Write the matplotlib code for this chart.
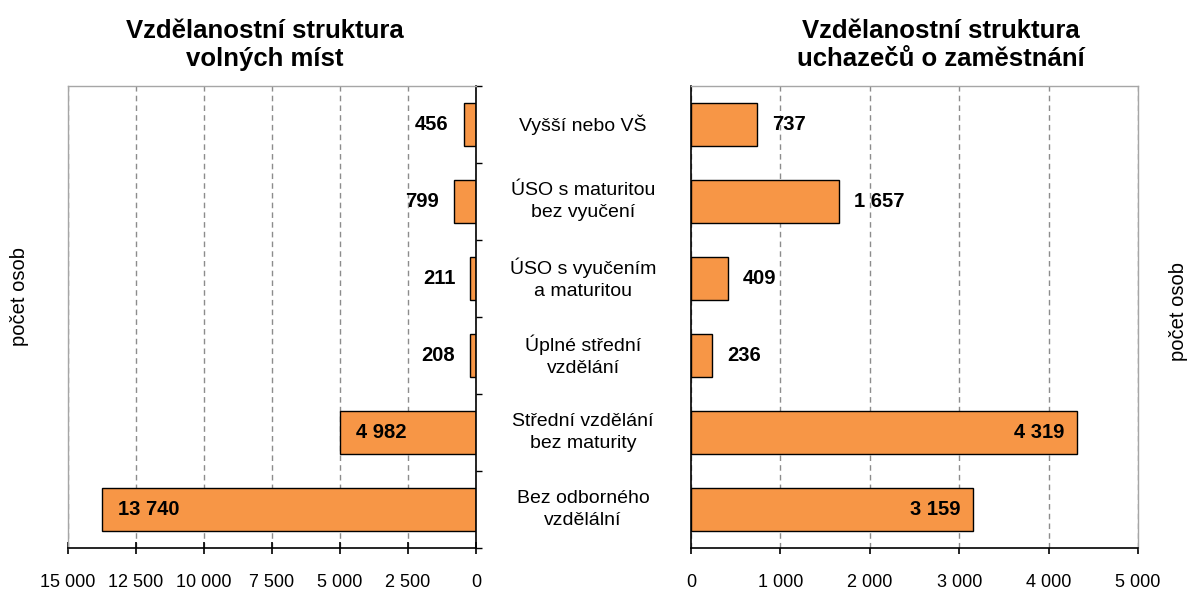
import matplotlib
matplotlib.use("Agg")
import matplotlib.pyplot as plt
import matplotlib.transforms as mtransforms

plt.rcParams["font.family"] = ["Liberation Sans", "DejaVu Sans"]

categories = ["Vyšší nebo VŠ", "ÚSO s maturitou\nbez vyučení", "ÚSO s vyučením\na maturitou",
              "Úplné střední\nvzdělání", "Střední vzdělání\nbez maturity", "Bez odborného\nvzdělální"]
vacancies = [456, 799, 211, 208, 4982, 13740]
applicants = [737, 1657, 409, 236, 4319, 3159]
left_ticks = [15000, 12500, 10000, 7500, 5000, 2500, 0]
right_ticks = [0, 1000, 2000, 3000, 4000, 5000]

BAR, GRID, FRAME = "#f79646", "#8c8c8c", "#a6a6a6"


def fmt(v):
    return f"{v:,}".replace(",", " ")


def style(ax, inner):
    for s in ax.spines.values():
        s.set_color(FRAME)
        s.set_linewidth(1.0)
    ax.spines["bottom"].set_color("black")
    ax.spines[inner].set_color("black")
    ax.spines["bottom"].set_linewidth(1.2)
    ax.spines[inner].set_linewidth(1.2)
    ax.set_ylim(5.5, -0.5)
    ax.grid(axis="x", ls=(0, (4, 3)), color=GRID, lw=1.0)
    ax.set_axisbelow(True)
    ax.tick_params(axis="x", labelsize=13)


fig = plt.figure(figsize=(11.9, 5.96), dpi=100)
ax1 = fig.add_axes([0.0571, 0.0805, 0.3429, 0.7752])
ax2 = fig.add_axes([0.5807, 0.0805, 0.3756, 0.7752])
y = list(range(len(categories)))
LBL = dict(va="center", fontsize=14.5, weight="bold", textcoords="offset pixels")

# left: vacancies (reversed axis)
ax1.barh(y, vacancies, height=0.56, color=BAR, edgecolor="black", lw=1.0)
style(ax1, "right")
ax1.set_xlim(15000, 0)
ax1.set_xticks(left_ticks)
ax1.set_xticklabels([fmt(v) for v in left_ticks])
ax1.tick_params(axis="x", direction="inout", length=9, width=1.2, pad=14)
ax1.yaxis.tick_right()
ax1.set_yticks([i - 0.5 for i in range(len(categories) + 1)])
ax1.set_yticklabels([])
ax1.tick_params(axis="y", direction="out", length=4, width=1.0)
for yi, v in zip(y, vacancies):
    if v > 3000:
        ax1.annotate(fmt(v), (v, yi), xytext=(16, 0), ha="left", **LBL)
    else:
        ax1.annotate(fmt(v), (v, yi), xytext=(-15, 0), ha="right", **LBL)

# right: applicants
ax2.barh(y, applicants, height=0.56, color=BAR, edgecolor="black", lw=1.0)
style(ax2, "left")
ax2.set_xlim(0, 5000)
ax2.set_xticks(right_ticks)
ax2.set_xticklabels([fmt(v) for v in right_ticks])
ax2.tick_params(axis="x", direction="out", length=4, width=1.2, pad=14.5)
ax2.set_yticks([])
for yi, v in zip(y, applicants):
    if v > 3000:
        ax2.annotate(fmt(v), (v, yi), xytext=(-13, 0), ha="right", **LBL)
    else:
        ax2.annotate(fmt(v), (v, yi), xytext=(15, 0), ha="left", **LBL)

# axis titles
fig.text(0.016, 0.503, "počet osob", rotation=90, ha="center", va="center", fontsize=14.5)
fig.text(0.990, 0.477, "počet osob", rotation=90, ha="center", va="center", fontsize=14.5)

# category labels between the panels
trans = mtransforms.blended_transform_factory(fig.transFigure, ax1.transData)
for yi, c in zip(y, categories):
    fig.text(0.49, yi, c, transform=trans, ha="center", va="center", fontsize=14,
             linespacing=1.35)

fig.text(0.2227, 0.924, "Vzdělanostní struktura\nvolných míst", ha="center", va="center",
         fontsize=18.5, weight="bold", linespacing=1.2)
fig.text(0.7908, 0.924, "Vzdělanostní struktura\nuchazečů o zaměstnání", ha="center", va="center",
         fontsize=18.5, weight="bold", linespacing=1.2)

fig.savefig("out.png", dpi=100, facecolor="white")
